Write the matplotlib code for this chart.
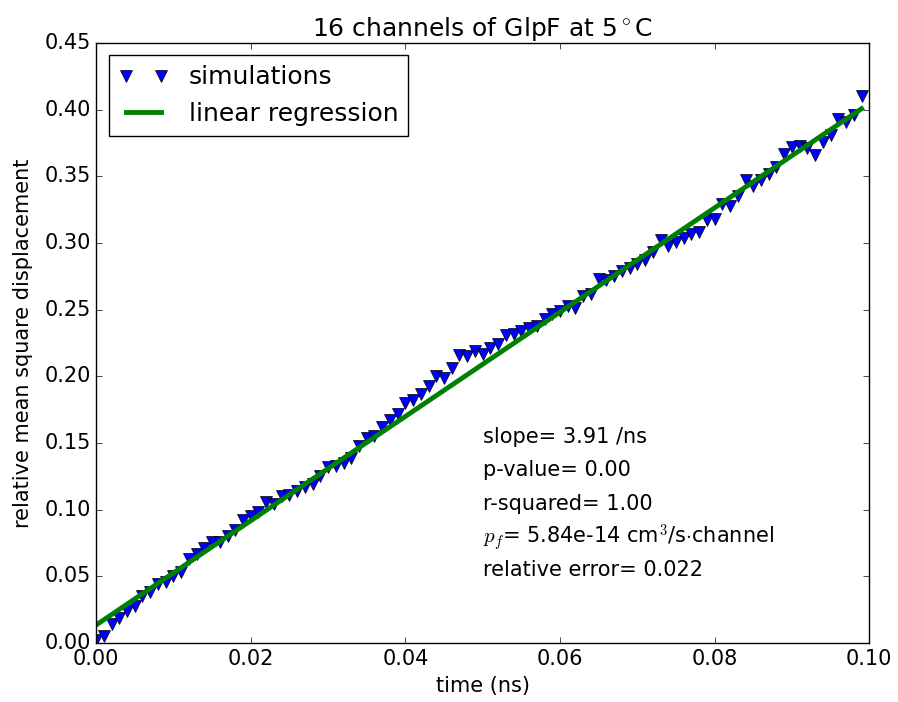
import numpy as np
import matplotlib
matplotlib.use('Agg')
import matplotlib.pyplot as plt

plt.style.use('classic')

# time in ns, one sample every 0.001 ns
t = np.arange(100) * 0.001
msd = [0.002, 0.005, 0.014, 0.019, 0.024, 0.028, 0.035, 0.038, 0.044, 0.046,
       0.050, 0.053, 0.063, 0.067, 0.071, 0.076, 0.076, 0.080, 0.085, 0.092,
       0.095, 0.098, 0.106, 0.104, 0.110, 0.111, 0.114, 0.117, 0.119, 0.125,
       0.132, 0.133, 0.135, 0.139, 0.148, 0.154, 0.155, 0.162, 0.167, 0.172,
       0.180, 0.182, 0.187, 0.193, 0.200, 0.199, 0.206, 0.216, 0.215, 0.219,
       0.217, 0.221, 0.224, 0.231, 0.232, 0.234, 0.236, 0.238, 0.243, 0.247,
       0.249, 0.253, 0.251, 0.260, 0.262, 0.273, 0.272, 0.275, 0.279, 0.281,
       0.284, 0.287, 0.293, 0.302, 0.298, 0.301, 0.304, 0.307, 0.308, 0.317,
       0.318, 0.329, 0.328, 0.335, 0.347, 0.343, 0.347, 0.352, 0.357, 0.367,
       0.372, 0.373, 0.371, 0.366, 0.376, 0.381, 0.393, 0.391, 0.396, 0.410]

slope = 3.91
intercept = 0.0135
stats = ['slope= 3.91 /ns',
         'p-value= 0.00',
         'r-squared= 1.00',
         r'$p_f$= 5.84e-14 cm$^3$/s$\cdot$channel',
         'relative error= 0.022']

fig = plt.figure(figsize=(8.98, 7.02), dpi=100)
ax = fig.add_axes([0.107, 0.084, 0.861, 0.855])

ax.plot(t, msd, 'v', color='b', markersize=8.5, label='simulations')
ax.plot(t, slope * t + intercept, color='g', lw=3.5, label='linear regression')

for k, s in enumerate(stats):
    ax.text(0.05, 0.15 - 0.025 * k, s, fontsize=15)

ax.set_xlim(0, 0.10)
ax.set_ylim(0, 0.45)
ax.set_xticks(np.arange(0, 0.101, 0.02))
ax.set_yticks(np.arange(0, 0.451, 0.05))
ax.tick_params(labelsize=15)
ax.set_xlabel('time (ns)', fontsize=15)
ax.set_ylabel('relative mean square displacement', fontsize=15, labelpad=8)
ax.set_title(r'16 channels of GlpF at 5$^\circ$C', fontsize=18)
ax.legend(loc='upper left', fontsize=18)

fig.savefig('out.png', dpi=100)
